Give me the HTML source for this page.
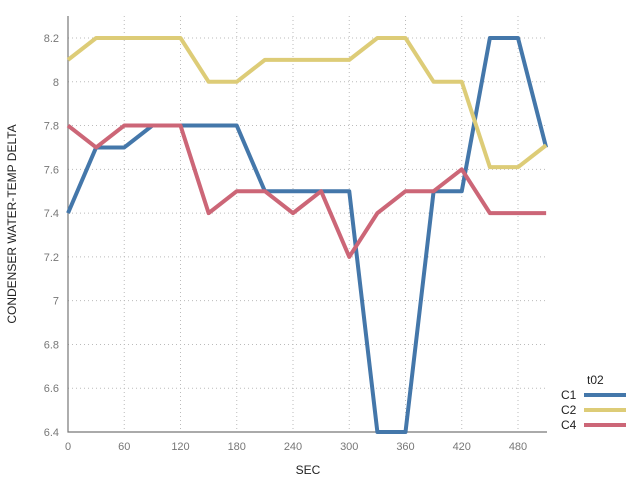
<!DOCTYPE html>
<html><head><meta charset="utf-8"><style>
body{margin:0;background:#fff;}
svg{display:block;font-family:"Liberation Sans",sans-serif;}
</style></head><body>
<svg id="chart" width="640" height="480" xmlns="http://www.w3.org/2000/svg"></svg>
<script>
const xValues=[0,30,60,90,120,150,180,210,240,270,300,330,360,390,420,450,480,510];
const c1Values=[7.4,7.7,7.7,7.8,7.8,7.8,7.8,7.5,7.5,7.5,7.5,6.4,6.4,7.5,7.5,8.2,8.2,7.7];
const c2Values=[8.1,8.2,8.2,8.2,8.2,8.0,8.0,8.1,8.1,8.1,8.1,8.2,8.2,8.0,8.0,7.61,7.61,7.71];
const c4Values=[7.8,7.7,7.8,7.8,7.8,7.4,7.5,7.5,7.4,7.5,7.2,7.4,7.5,7.5,7.6,7.4,7.4,7.4];
const xTicks=[0,60,120,180,240,300,360,420,480];
const yTicks=[6.4,6.6,6.8,7,7.2,7.4,7.6,7.8,8,8.2];
const seriesNames=["C1","C2","C4"];
const colors=["#4477aa","#ddcc77","#cc6677"];
const svg=document.getElementById('chart');
const NS="http://www.w3.org/2000/svg";
const X0=68,PX=0.9375,Y0=432,PY=(432-38)/1.8,XE=547;
const sx=v=>X0+v*PX, sy=v=>Y0-(v-6.4)*PY;
function mk(t,a,p){const e=document.createElementNS(NS,t);for(const k in a)e.setAttribute(k,a[k]);(p||svg).appendChild(e);return e;}
const grid=mk('g',{});


xTicks.forEach(t=>{mk('line',{x1:sx(t),x2:sx(t),y1:16,y2:Y0,stroke:'#bbb','stroke-dasharray':'1,3'},grid);
 const l=mk('text',{x:sx(t),y:450,'text-anchor':'middle','font-size':11,fill:'#777'});l.textContent=t;
 
 });
yTicks.forEach(t=>{mk('line',{x1:X0,x2:XE,y1:sy(t),y2:sy(t),stroke:'#bbb','stroke-dasharray':'1,3'},grid);
 const l=mk('text',{x:59,y:sy(t)+4,'text-anchor':'end','font-size':11,fill:'#777'});l.textContent=String(t);
 
 });
const ax=mk('path',{d:`M${X0} 16V${Y0}H${XE}`,stroke:'#777',fill:'none','stroke-width':1.2});


[c1Values,c2Values,c4Values].forEach((vals,i)=>{
 const d=vals.map((v,j)=>(j?'L':'M')+sx(xValues[j])+' '+sy(v)).join('');
 const p=mk('path',{d:d,stroke:colors[i],'stroke-width':4,fill:'none','stroke-linejoin':'round'});
 
 
});
const xt=mk('text',{x:308,y:474,'text-anchor':'middle','font-size':12,fill:'#222'});xt.textContent='SEC';


const yt=mk('text',{x:16,y:224,'text-anchor':'middle','font-size':12,fill:'#222',transform:'rotate(-90 16 224)'});yt.textContent='CONDENSER WATER-TEMP DELTA';


const lt=mk('text',{x:587,y:384,'font-size':12,fill:'#222'});lt.textContent='t02';


seriesNames.forEach((n,i)=>{
 const g=mk('g',{});
 
 
 const y=395+i*15;
 const t=mk('text',{x:561,y:y+4,'font-size':12,fill:'#222'},g);t.textContent=n;
 mk('line',{x1:584,x2:626,y1:y,y2:y,stroke:colors[i],'stroke-width':4},g);
});
</script>
</body></html>
